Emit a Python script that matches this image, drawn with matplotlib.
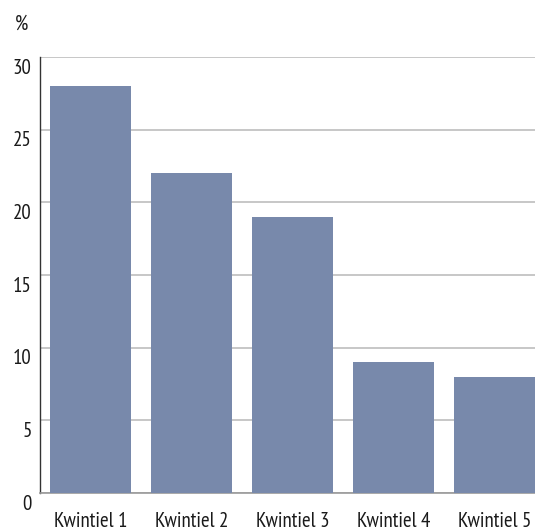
import matplotlib
matplotlib.use("Agg")
import matplotlib.pyplot as plt
import matplotlib.transforms as mtransforms

categories = ["Kwintiel 1", "Kwintiel 2", "Kwintiel 3", "Kwintiel 4", "Kwintiel 5"]
values = [28, 22, 19, 9, 8]
yticks = [0, 5, 10, 15, 20, 25, 30]

plt.rcParams['font.family'] = ['PT Sans Narrow', 'Open Sans Condensed', 'Liberation Sans Narrow', 'DejaVu Sans']

W, H = 535, 530
fig = plt.figure(figsize=(W/100, H/100), dpi=100)
ax = fig.add_axes([40/W, (H-493)/H, 495/W, 436/H])

ax.bar(range(len(values)), values, width=0.8, color="#7889ab", zorder=3)
ax.set_xlim(-0.5, 4.4)
ax.set_ylim(0, 30)
ax.set_yticks(yticks)
ax.set_xticks(range(len(categories)))
ax.set_xticklabels(categories)
ax.yaxis.grid(True, color="#bdbdbd", linewidth=1.2, zorder=0)
ax.set_axisbelow(True)
for s in ["top", "right"]:
    ax.spines[s].set_visible(False)
ax.spines["left"].set_color("#333333")
ax.spines["left"].set_linewidth(1.0)
ax.spines["bottom"].set_color("#999999")
ax.spines["bottom"].set_linewidth(1.2)
ax.tick_params(axis="both", length=0, labelsize=15, colors="#1a1a1a")
ax.tick_params(axis="y", pad=6)
ax.tick_params(axis="x", pad=14)
offset = mtransforms.ScaledTranslation(0, -9/100, fig.dpi_scale_trans)
for lbl in ax.get_yticklabels():
    lbl.set_transform(lbl.get_transform() + offset)

fig.text(15/W, 1 - 24/H, "%", fontsize=15, va="center", ha="left", color="#1a1a1a")

fig.savefig("out.png", dpi=100)
